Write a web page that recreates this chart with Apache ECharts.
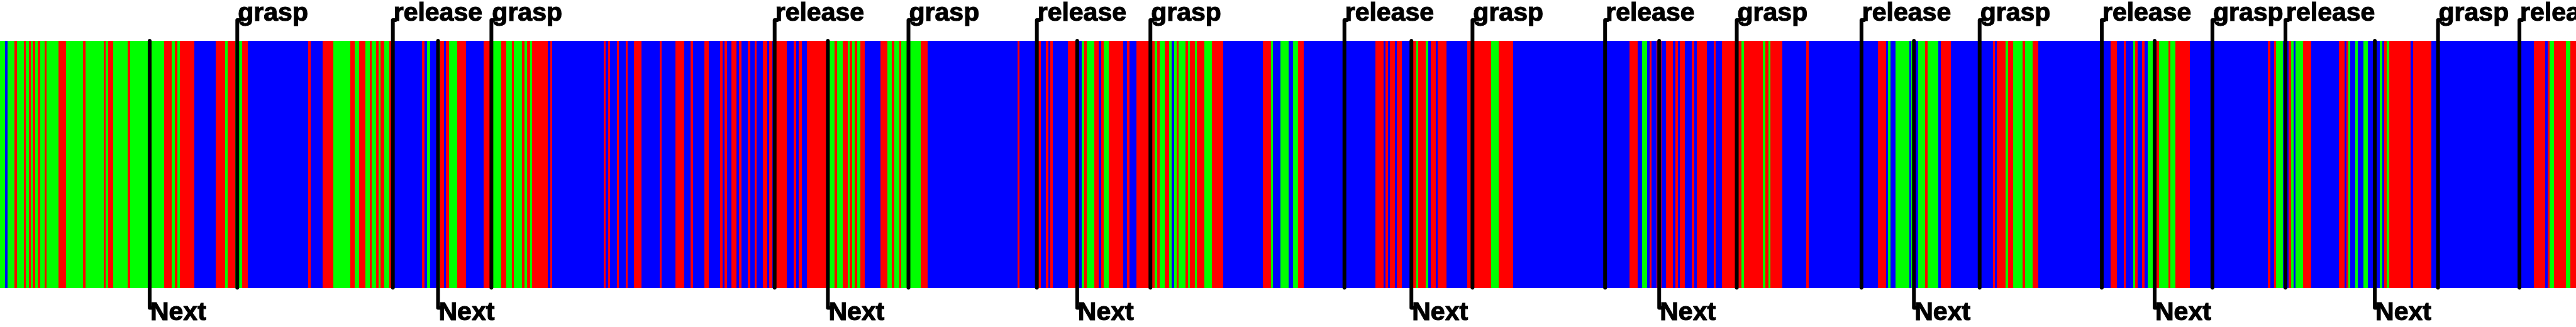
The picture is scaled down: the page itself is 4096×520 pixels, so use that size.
<!DOCTYPE html>
<html>
<head>
<meta charset="utf-8">
<script src="https://cdn.jsdelivr.net/npm/echarts@6/dist/echarts.min.js"></script>
<style>
html,body{margin:0;padding:0;background:#ffffff;}
#chart{width:4096px;height:520px;}
</style>
</head>
<body>
<div id="chart"></div>
<script>
// ---- DATA (timeline units, 0 .. 6300) ----
const timelineEnd = 6300;
const stateNames = ['G', 'R', 'B'];
const stateColors = { G: '#00ff00', R: '#ff0000', B: '#0000ff' };

// state of each consecutive segment
const segmentStates = [
  'G','B','G','R','G','R','G','R','G','R',
  'G','R','G','R','G','R','G','R','G','R',
  'G','R','G','R','G','R','G','R','G','R',
  'G','R','B','R','G','R','G','R','G','R',
  'B','R','B','R','G','R','G','R','G','R',
  'G','R','G','R','G','R','B','R','B','G',
  'B','G','R','B','R','G','R','B','R','G',
  'R','G','R','G','R','G','R','G','R','B',
  'R','B','R','B','R','B','R','B','R','B',
  'R','B','R','B','R','B','R','B','R','B',
  'R','B','R','B','R','B','R','B','R','B',
  'R','B','R','B','R','B','R','B','R','B',
  'R','B','R','G','R','G','R','G','R','G',
  'R','G','R','B','R','G','R','G','R','G',
  'R','B','R','B','R','B','R','B','R','B',
  'R','B','G','R','G','R','B','R','G','R',
  'B','R','B','R','G','R','G','R','G','B',
  'G','R','G','R','G','R','G','R','G','R',
  'B','R','G','B','G','B','G','R','B','R',
  'B','R','B','R','B','R','B','R','G','R',
  'G','B','R','B','R','B','R','G','R','B',
  'R','B','G','B','R','B','R','B','R','B',
  'R','B','R','B','R','B','R','B','R','B',
  'R','G','R','G','R','G','R','B','R','B',
  'R','B','G','B','G','B','G','B','G','R',
  'G','B','R','B','R','B','R','G','R','G',
  'R','G','R','B','R','B','R','B','G','R',
  'B','R','B','G','R','G','R','G','R','B',
  'R','B','R','G','B','R','G','B','G','R',
  'B','R','B','R','G','B','G','B','G','B',
  'G','B','R','G','R','B','R','B','R','B',
  'R','G','R','G','R'
];

// end position of each segment (start = previous end)
const segmentEnds = [
  12,18,36,41.7,58.7,63.7,70,74.7,80.7,86,
  92,97.7,109,114.3,143.3,161.3,203.3,209,254,259,
  265,276.7,311.7,317.7,365,371,401.3,420,427.3,433,
  440,475,528,551,557,575,580,585,591.7,606.7,
  754.3,760.3,789,815,857,867.7,877.7,893.7,903.7,909.7,
  919.7,925.7,930.3,940.3,951.7,960,1032.7,1038.7,1043.7,1052,
  1068,1076.7,1085.3,1090.7,1097.7,1118.7,1140,1183.3,1201,1225.7,
  1238,1251.3,1257.3,1276,1283.3,1289,1296,1301,1340,1346,
  1351,1476.3,1481.3,1487.3,1492,1509.3,1514,1530,1535,1550.7,
  1568.3,1612.7,1617.7,1651.7,1673.7,1689.3,1694.3,1722.3,1733.7,1761.7,
  1767,1772.3,1778.3,1789,1801,1807.3,1813,1829,1834.3,1845,
  1849.7,1865.7,1877,1881.7,1888.3,1894,1923.7,1941.7,1947.7,1953.7,
  1960.7,1973.7,2024,2041,2047,2061.7,2072.7,2078.7,2084.7,2090.7,
  2095.7,2104,2115,2153.7,2170.7,2181.7,2186.7,2198.7,2203.7,2251.3,
  2268.3,2488.7,2493.3,2536,2546,2557.3,2563.3,2569.3,2575,2611.7,
  2636,2646,2652.3,2658.3,2675.7,2687.7,2693.7,2699.7,2711.7,2746.3,
  2756.3,2762.3,2779.3,2824,2830.3,2836.3,2848,2859,2865,2871,
  2877,2882.3,2899,2905,2909.7,2921.7,2927.7,2945.7,2963.7,2991.7,
  3088.3,3109,3113.7,3131,3151,3162,3174,3188,3363.3,3383.3,
  3388,3394,3399.3,3411.3,3416.7,3428.7,3448.3,3464,3468.7,3486.7,
  3492.3,3498.7,3510.7,3516.7,3537.3,3588,3646.7,3666,3700,3985.7,
  4005.7,4016.3,4028.3,4034.3,4039.7,4051.7,4064,4074.7,4091,4097,
  4103,4108.3,4120.3,4137,4143,4149,4175,4191,4195.7,4211,
  4258.7,4264.7,4312,4317.3,4324.7,4330.3,4358.7,4417.7,4423.7,4593.3,
  4613.3,4618,4624,4635.3,4669.3,4675,4681,4691.7,4708.7,4713.7,
  4740,4746,4770.7,4874.3,4878.3,4883.3,4905.3,4911.3,4923,4947,
  4953,4971,4985,5162,5177,5194,5199,5217,5221.7,5227.7,
  5238.7,5244.7,5253,5270,5280,5302.7,5308.7,5320.7,5356,5546.7,
  5552,5561.7,5566.7,5584,5596.7,5602.7,5608.7,5614.7,5632.7,5652.7,
  5720,5733.3,5738,5742.7,5748,5760,5766,5780,5791,5819.7,
  5825.7,5830.7,5836.7,5842.7,5895.3,5901.7,5946.3,6196.3,6225,6230.3,
  6235,6246,6275,6286.7,6300
];

// event markers
const eventNames = ['grasp', 'release', 'Next'];
const graspAt   = [580.3, 1201.8, 2221.8, 2813.5, 3601.2, 4247.5, 4841.5, 5410.8, 5962.5];
const releaseAt = [960.8, 1894.5, 2535.8, 3288, 3925.5, 4552.5, 5140.2, 5589.5, 6161.7];
const nextAt    = [366, 1071.3, 2024.7, 2634.5, 3451.8, 4057.8, 4680.8, 5269.5, 5808];

// ---- BUILD ----
if (segmentStates.length !== segmentEnds.length) {
  console.error('segment arrays differ', segmentStates.length, segmentEnds.length);
}
const segData = [];
let prev = 0;
for (let i = 0; i < segmentEnds.length; i++) {
  segData.push([prev, segmentEnds[i], stateNames.indexOf(segmentStates[i])]);
  prev = segmentEnds[i];
}
const eventData = [];
graspAt.forEach(v => eventData.push([v, 0]));
releaseAt.forEach(v => eventData.push([v, 1]));
nextAt.forEach(v => eventData.push([v, 2]));

const FONT = 'bold 41px "Liberation Sans", Arial, sans-serif';
const LINE_W = 6;
const TOP_RISE = 33;      // px above band top where upper leader ends
const BOTTOM_DROP = 32;   // px below band bottom where lower leader ends
const HOOK = 4;

const chart = echarts.init(document.getElementById('chart'), null, { renderer: 'canvas' });
chart.setOption({
  animation: false,
  backgroundColor: '#ffffff',
  grid: { left: 0, right: 0, top: 65, bottom: 62.4, containLabel: false },
  xAxis: { type: 'value', min: 0, max: timelineEnd, show: false },
  yAxis: { type: 'value', min: 0, max: 1, show: false },
  series: [
    {
      type: 'custom',
      clip: false,
      encode: { x: [0, 1] },
      data: segData,
      renderItem: function (params, api) {
        const s = api.value(0), e = api.value(1), k = api.value(2);
        const p0 = api.coord([s, 1]);
        const p1 = api.coord([e, 0]);
        const x0 = Math.round(p0[0]);
        const x1 = Math.round(p1[0]);
        const y0 = Math.round(p0[1]);
        const y1 = Math.round(p1[1]);
        return {
          type: 'rect',
          shape: { x: x0, y: y0, width: Math.max(1, x1 - x0), height: y1 - y0 },
          style: { fill: stateColors[stateNames[k]] }
        };
      }
    },
    {
      type: 'custom',
      clip: false,
      encode: { x: 0 },
      data: eventData,
      z: 5,
      renderItem: function (params, api) {
        const x = api.value(0), k = api.value(1);
        const pTop = api.coord([x, 1]);
        const pBot = api.coord([x, 0]);
        const cx = pTop[0];
        let pts, ty;
        if (k < 2) {
          const yEnd = pTop[1] - TOP_RISE;
          pts = [[cx, pBot[1]], [cx, yEnd], [cx + HOOK, yEnd]];
          ty = yEnd - 10;
        } else {
          const yEnd = pBot[1] + BOTTOM_DROP;
          pts = [[cx, pTop[1]], [cx, yEnd], [cx + HOOK, yEnd]];
          ty = yEnd + 8;
        }
        return {
          type: 'group',
          children: [
            {
              type: 'polyline',
              shape: { points: pts },
              style: { stroke: '#000000', fill: null, lineWidth: LINE_W, lineCap: 'round', lineJoin: 'round' }
            },
            {
              type: 'text',
              x: cx + 1,
              y: ty,
              style: {
                text: eventNames[k],
                fill: '#000000',
                stroke: '#000000',
                lineWidth: 1.2,
                font: FONT,
                align: 'left', verticalAlign: 'middle',
                textAlign: 'left', textVerticalAlign: 'middle'
              }
            }
          ]
        };
      }
    }
  ]
});
</script>
</body>
</html>
